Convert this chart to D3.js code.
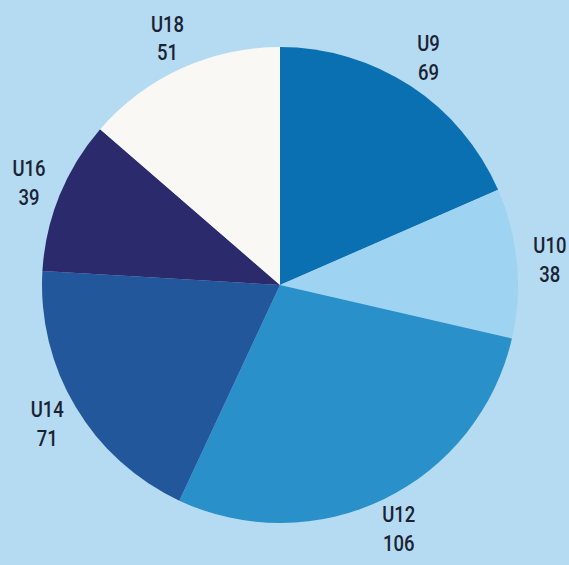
<!DOCTYPE html>
<html>
<head>
<meta charset="utf-8">
<script src="https://cdn.jsdelivr.net/npm/d3@7"></script>
<style>
  html, body { margin: 0; padding: 0; background: #b4dbf2; }
  svg { display: block; }
</style>
</head>
<body>
<script>
// chart data
var categories = ["U9", "U10", "U12", "U14", "U16", "U18"];
var counts = [69, 38, 106, 71, 39, 51];
var sliceColors = ["#0a70b2", "#9ed4f1", "#2a90c9", "#23579b", "#2b2a6d", "#faf8f4"];

var svgWidth = 569;
var svgHeight = 565;
var cx = 280, cy = 285;
var radius = 238;
var labelRadius = 271;

var svg = d3.select("body")
  .append("svg")
  .attr("width", svgWidth)
  .attr("height", svgHeight);

var chartGroup = svg.append("g")
  .attr("transform", `translate(${cx}, ${cy})`);

var data = categories.map(function(c, i) {
  return { name: c, value: counts[i], color: sliceColors[i] };
});

var pie = d3.pie()
  .sort(null)
  .value(d => d.value);

var arc = d3.arc()
  .innerRadius(0)
  .outerRadius(radius);

var labelArc = d3.arc()
  .innerRadius(labelRadius)
  .outerRadius(labelRadius);

var arcs = pie(data);

chartGroup.selectAll("path")
  .data(arcs)
  .enter()
  .append("path")
  .attr("d", arc)
  .attr("fill", d => d.data.color);

// labels: name on top, count below
var labels = chartGroup.selectAll("g.label")
  .data(arcs)
  .enter()
  .append("g")
  .attr("class", "label")
  .attr("transform", function(d) {
    var p = labelArc.centroid(d);
    return `translate(${p[0]}, ${p[1]}) scale(0.84, 1)`;
  });

labels.append("text")
  .attr("text-anchor", "middle")
  .attr("y", -7)
  .style("font-family", "Roboto, 'Liberation Sans Narrow', sans-serif")
  .style("font-weight", "500")
  .style("font-size", "22px")
  .attr("fill", "#1b2233")
  .text(d => d.data.name);

labels.append("text")
  .attr("text-anchor", "middle")
  .attr("y", 22)
  .style("font-family", "Roboto, 'Liberation Sans Narrow', sans-serif")
  .style("font-weight", "500")
  .style("font-size", "22px")
  .attr("fill", "#1b2233")
  .text(d => d.data.value);
</script>
</body>
</html>
